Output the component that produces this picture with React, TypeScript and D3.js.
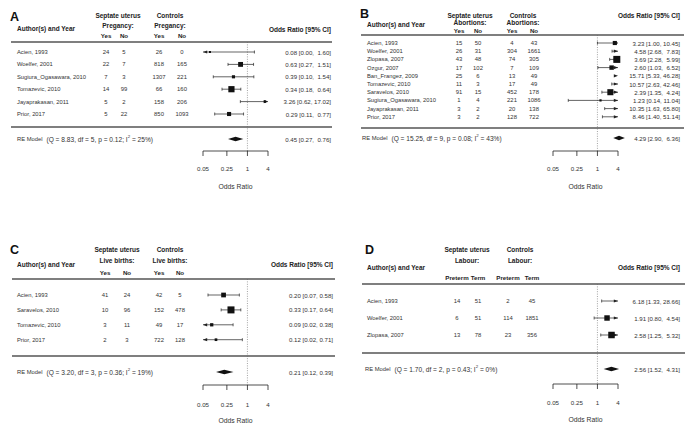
import React from "react";
import * as d3 from "d3";

// ---- Panel A: pregnancy ----
const aStudies = ["Acien, 1993", "Woelfer, 2001", "Sugiura_Ogasawara, 2010", "Tomazevic, 2010", "Jayaprakasan, 2011", "Prior, 2017"];
const aSeptYes = [24, 22, 7, 14, 5, 5];
const aSeptNo = [5, 7, 3, 99, 2, 22];
const aCtrlYes = [26, 818, 1307, 66, 158, 850];
const aCtrlNo = [0, 165, 221, 160, 206, 1093];
const aOR = [0.08, 0.63, 0.39, 0.34, 3.26, 0.29];
const aLower = [0.0, 0.27, 0.1, 0.18, 0.62, 0.11];
const aUpper = [1.6, 1.51, 1.54, 0.64, 17.02, 0.77];
const aWeight = [4, 24, 10, 39, 6, 17];
const aPooled = [0.45, 0.27, 0.76];
const aHet = [8.83, 5, 0.12, 25]; // Q, df, p, I2

// ---- Panel B: abortions ----
const bStudies = ["Acien, 1993", "Woelfer, 2001", "Zlopasa, 2007", "Ozgur, 2007", "Ban_Frangez, 2009", "Tomazevic, 2010", "Saravelos, 2010", "Sugiura_Ogasawara, 2010", "Jayaprakasan, 2011", "Prior, 2017"];
const bSeptYes = [15, 26, 43, 17, 25, 11, 91, 1, 3, 3];
const bSeptNo = [50, 31, 48, 102, 6, 3, 15, 4, 2, 2];
const bCtrlYes = [4, 304, 74, 7, 13, 17, 452, 221, 20, 128];
const bCtrlNo = [43, 1661, 305, 109, 49, 49, 178, 1086, 138, 722];
const bOR = [3.23, 4.58, 3.69, 2.6, 15.71, 10.57, 2.39, 1.23, 10.35, 8.46];
const bLower = [1.0, 2.68, 2.28, 1.03, 5.33, 2.63, 1.35, 0.14, 1.63, 1.4];
const bUpper = [10.45, 7.83, 5.99, 6.52, 46.28, 42.46, 4.24, 11.04, 65.8, 51.14];
const bWeight = [7, 18, 20, 8, 6, 4, 15, 2, 3, 4];
const bPooled = [4.29, 2.9, 6.36];
const bHet = [15.25, 9, 0.08, 43];

// ---- Panel C: live births ----
const cStudies = ["Acien, 1993", "Saravelos, 2010", "Tomazevic, 2010", "Prior, 2017"];
const cSeptYes = [41, 10, 3, 2];
const cSeptNo = [24, 96, 11, 3];
const cCtrlYes = [42, 152, 49, 722];
const cCtrlNo = [5, 478, 17, 128];
const cOR = [0.2, 0.33, 0.09, 0.12];
const cLower = [0.07, 0.17, 0.02, 0.02];
const cUpper = [0.58, 0.64, 0.38, 0.71];
const cWeight = [25, 55, 12, 8];
const cPooled = [0.21, 0.12, 0.39];
const cHet = [3.2, 3, 0.36, 19];

// ---- Panel D: labour ----
const dStudies = ["Acien, 1993", "Woelfer, 2001", "Zlopasa, 2007"];
const dSeptPre = [14, 6, 13];
const dSeptTerm = [51, 51, 78];
const dCtrlPre = [2, 114, 23];
const dCtrlTerm = [45, 1851, 356];
const dOR = [6.18, 1.91, 2.58];
const dLower = [1.33, 0.8, 1.25];
const dUpper = [28.66, 4.54, 5.32];
const dWeight = [15, 35, 50];
const dPooled = [2.56, 1.52, 4.31];
const dHet = [1.7, 2, 0.43, 0];

const axisTicks = [0.05, 0.25, 1, 4];
const groupLabels = ["Septate uterus", "Controls"];

const FONT = "'Liberation Sans', Arial, Helvetica, sans-serif";
const INK = "#222";
const TXT = "#333";
const RULE = "#555";

type Layout = {
  letterX: number; letterY: number;
  g1Y: number; g2Y: number; colHeadY: number; authorY: number; orHeadY: number;
  topY: number; rowY0: number; rowStep: number; botY: number; reY: number;
  axisY: number; tickLabY: number; titleY: number;
  nameX: number; reX: number; colX: number[]; grpX: number[];
  lineX: number[]; orX: number; xRange: number[]; maxSq: number;
};

type PanelProps = {
  letter: string;
  outcome: string;
  colHead: string[];
  studies: string[];
  cols: number[][];
  or: number[];
  lo: number[];
  hi: number[];
  weight: number[];
  pooled: number[];
  het: number[];
  L: Layout;
};

const fmtCI = (e: number, l: number, u: number, w: number) =>
  `${e.toFixed(2)} [${l.toFixed(2)}, ${u.toFixed(2).padStart(w, " ")}]`;

const ForestPanel: React.FC<PanelProps> = ({ letter, outcome, colHead, studies, cols, or, lo, hi, weight, pooled, het, L }) => {
  const x = d3.scaleLog().domain([0.05, 4]).range(L.xRange as [number, number]);
  const [amin, amax] = x.domain();
  const size = d3.scaleSqrt().domain([0, d3.max(weight) as number]).range([0, L.maxSq]);
  const rowY = (i: number) => L.rowY0 + i * L.rowStep;
  const upW = d3.max([...hi, pooled[2]], (v) => v.toFixed(2).length) as number;
  const aLen = 4.2, aH = 1.6, tH = 1.5;

  const arrowR = (y: number) => `M${x(amax)},${y}L${x(amax) - aLen},${y - aH}L${x(amax) - aLen},${y + aH}Z`;
  const arrowL = (y: number) => `M${x(amin)},${y}L${x(amin) + aLen},${y - aH}L${x(amin) + aLen},${y + aH}Z`;

  return (
    <g fontFamily={FONT}>
      <text x={L.letterX} y={L.letterY} fontSize={12.5} fontWeight="bold" fill="#111">{letter}</text>
      {/* headers */}
      <text x={L.nameX} y={L.authorY} fontSize={6.5} fontWeight="bold" fill={INK} dominantBaseline="central">Author(s) and Year</text>
      {groupLabels.map((g, j) => (
        <g key={g}>
          <text x={L.grpX[j]} y={L.g1Y} fontSize={6.5} fontWeight="bold" fill={INK} textAnchor="middle" dominantBaseline="central">{g}</text>
          <text x={L.grpX[j]} y={L.g2Y} fontSize={6.5} fontWeight="bold" fill={INK} textAnchor="middle" dominantBaseline="central">{outcome}</text>
        </g>
      ))}
      {L.colX.map((cx, j) => (
        <text key={j} x={cx} y={L.colHeadY} fontSize={6.2} fontWeight="bold" fill={INK} textAnchor="middle" dominantBaseline="central">{colHead[j % 2]}</text>
      ))}
      <text x={L.orX} y={L.orHeadY} fontSize={6.5} fontWeight="bold" fill={INK} textAnchor="end" dominantBaseline="central">Odds Ratio [95% CI]</text>

      {/* rules */}
      <line x1={L.lineX[0]} x2={L.lineX[1]} y1={L.topY} y2={L.topY} stroke={RULE} strokeWidth={1.3} />
      <line x1={L.lineX[0]} x2={L.lineX[1]} y1={L.botY} y2={L.botY} stroke={RULE} strokeWidth={1.3} />
      <line x1={x(1)} x2={x(1)} y1={L.topY} y2={L.axisY} stroke="#666" strokeWidth={0.6} strokeDasharray="1,1.4" />

      {/* study rows */}
      {studies.map((s, i) => {
        const y = rowY(i);
        const l = lo[i], u = hi[i], e = or[i];
        let marks: React.ReactNode;
        if (l >= amax) {
          marks = <path d={arrowR(y)} fill={INK} />;
        } else if (u <= amin) {
          marks = <path d={arrowL(y)} fill={INK} />;
        } else {
          const x1 = x(Math.max(l, amin));
          const x2 = x(Math.min(u, amax));
          const sq = size(weight[i]);
          marks = (
            <g>
              <line x1={x1} x2={x2} y1={y} y2={y} stroke={INK} strokeWidth={0.7} />
              {l >= amin ? <line x1={x1} x2={x1} y1={y - tH} y2={y + tH} stroke={INK} strokeWidth={0.7} /> : <path d={arrowL(y)} fill={INK} />}
              {u <= amax ? <line x1={x2} x2={x2} y1={y - tH} y2={y + tH} stroke={INK} strokeWidth={0.7} /> : <path d={arrowR(y)} fill={INK} />}
              {e >= amin && e <= amax && <rect x={x(e) - sq / 2} y={y - sq / 2} width={sq} height={sq} fill="#111" />}
            </g>
          );
        }
        return (
          <g key={s}>
            <text x={L.nameX} y={y} fontSize={5.8} fill={TXT} dominantBaseline="central">{s}</text>
            {cols.map((c, j) => (
              <text key={j} x={L.colX[j]} y={y} fontSize={5.9} fill={TXT} textAnchor="middle" dominantBaseline="central">{c[i]}</text>
            ))}
            {marks}
            <text x={L.orX} y={y} fontSize={6.1} fill={TXT} textAnchor="end" dominantBaseline="central" style={{ whiteSpace: "pre" }}>{fmtCI(e, l, u, upW)}</text>
          </g>
        );
      })}

      {/* pooled row */}
      <text x={L.reX} y={L.reY} fill={TXT} dominantBaseline="central" style={{ whiteSpace: "pre" }}>
        <tspan fontSize={5.8}>RE Model</tspan>
        <tspan fontSize={6.6} dx={4}>{`(Q = ${het[0].toFixed(2)}, df = ${het[1]}, p = ${het[2].toFixed(2)}; I`}</tspan>
        <tspan fontSize={4.4} dy={-2.6}>2</tspan>
        <tspan fontSize={6.6} dy={2.6}>{` = ${het[3]}%)`}</tspan>
      </text>
      <path
        d={`M${x(pooled[1])},${L.reY}L${x(pooled[0])},${L.reY - 2.2}L${x(pooled[2])},${L.reY}L${x(pooled[0])},${L.reY + 2.2}Z`}
        fill="#111"
      />
      <text x={L.orX} y={L.reY} fontSize={6.1} fill={TXT} textAnchor="end" dominantBaseline="central" style={{ whiteSpace: "pre" }}>
        {fmtCI(pooled[0], pooled[1], pooled[2], upW)}
      </text>

      {/* axis */}
      <line x1={x(amin)} x2={x(amax)} y1={L.axisY} y2={L.axisY} stroke={INK} strokeWidth={0.8} />
      {axisTicks.map((t) => (
        <g key={t}>
          <line x1={x(t)} x2={x(t)} y1={L.axisY} y2={L.axisY + 5} stroke={INK} strokeWidth={0.8} />
          <text x={x(t)} y={L.tickLabY} fontSize={6.2} fill={TXT} textAnchor="middle" dominantBaseline="central">{String(t)}</text>
        </g>
      ))}
      <text x={(L.xRange[0] + L.xRange[1]) / 2} y={L.titleY} fontSize={6.8} fill={TXT} textAnchor="middle" dominantBaseline="central">Odds Ratio</text>
    </g>
  );
};

const layoutA: Layout = {
  letterX: 10, letterY: 21, g1Y: 15, g2Y: 25, colHeadY: 35, authorY: 28, orHeadY: 29,
  topY: 42, rowY0: 52, rowStep: 12.4, botY: 127, reY: 139, axisY: 151, tickLabY: 168, titleY: 186,
  nameX: 17, reX: 17, colX: [106, 124, 159, 182], grpX: [118, 170], lineX: [11, 332], orX: 331,
  xRange: [203, 268], maxSq: 6.2,
};
const layoutB: Layout = {
  letterX: 360, letterY: 18, g1Y: 15, g2Y: 22, colHeadY: 30, authorY: 24, orHeadY: 15,
  topY: 35, rowY0: 43, rowStep: 8.2, botY: 128, reY: 138, axisY: 151, tickLabY: 168, titleY: 186,
  nameX: 367, reX: 362, colX: [459, 478, 512, 534], grpX: [470, 523], lineX: [361, 684], orX: 680,
  xRange: [553, 618], maxSq: 7,
};
const layoutC: Layout = {
  letterX: 10, letterY: 254, g1Y: 249, g2Y: 260, colHeadY: 272, authorY: 264, orHeadY: 264,
  topY: 279, rowY0: 295, rowStep: 14.9, botY: 356, reY: 372, axisY: 385, tickLabY: 404, titleY: 420,
  nameX: 17, reX: 17, colX: [105, 127, 159, 180], grpX: [117, 170], lineX: [12, 335], orX: 333,
  xRange: [203, 268], maxSq: 7,
};
const layoutD: Layout = {
  letterX: 365, letterY: 254, g1Y: 249, g2Y: 260, colHeadY: 277, authorY: 267, orHeadY: 267,
  topY: 284, rowY0: 301, rowStep: 17, botY: 353, reY: 369, axisY: 384, tickLabY: 402, titleY: 419,
  nameX: 367, reX: 365, colX: [457, 478, 508, 532], grpX: [467, 520], lineX: [362, 685], orX: 680,
  xRange: [553, 618], maxSq: 6.5,
};

export default function App() {
  return (
    <svg width={697} height={427} style={{ position: "absolute", left: 0, top: 0, background: "#fff" }}>
      <ForestPanel letter="A" outcome="Pregancy:" colHead={["Yes", "No"]} studies={aStudies}
        cols={[aSeptYes, aSeptNo, aCtrlYes, aCtrlNo]} or={aOR} lo={aLower} hi={aUpper} weight={aWeight}
        pooled={aPooled} het={aHet} L={layoutA} />
      <ForestPanel letter="B" outcome="Abortions:" colHead={["Yes", "No"]} studies={bStudies}
        cols={[bSeptYes, bSeptNo, bCtrlYes, bCtrlNo]} or={bOR} lo={bLower} hi={bUpper} weight={bWeight}
        pooled={bPooled} het={bHet} L={layoutB} />
      <ForestPanel letter="C" outcome="Live births:" colHead={["Yes", "No"]} studies={cStudies}
        cols={[cSeptYes, cSeptNo, cCtrlYes, cCtrlNo]} or={cOR} lo={cLower} hi={cUpper} weight={cWeight}
        pooled={cPooled} het={cHet} L={layoutC} />
      <ForestPanel letter="D" outcome="Labour:" colHead={["Preterm", "Term"]} studies={dStudies}
        cols={[dSeptPre, dSeptTerm, dCtrlPre, dCtrlTerm]} or={dOR} lo={dLower} hi={dUpper} weight={dWeight}
        pooled={dPooled} het={dHet} L={layoutD} />
    </svg>
  );
}
